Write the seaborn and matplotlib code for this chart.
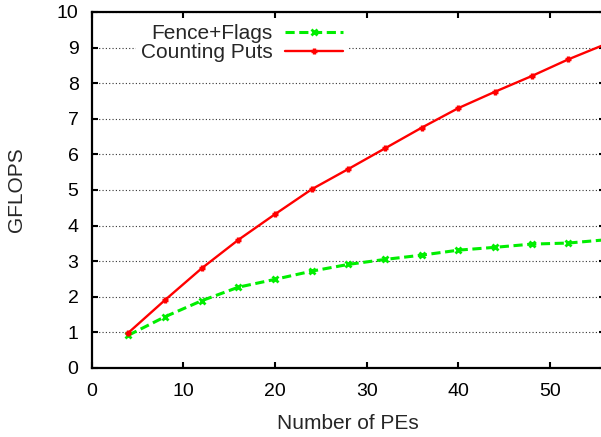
import matplotlib
matplotlib.use("Agg")
import matplotlib.pyplot as plt
from matplotlib.lines import Line2D
import seaborn as sns

pes = [4, 8, 12, 16, 20, 24, 28, 32, 36, 40, 44, 48, 52, 56]
fence_flags = [0.92, 1.44, 1.89, 2.27, 2.49, 2.72, 2.91, 3.05, 3.17, 3.31, 3.39, 3.48, 3.51, 3.60]
counting_puts = [0.99, 1.91, 2.80, 3.60, 4.32, 5.02, 5.59, 6.17, 6.75, 7.30, 7.76, 8.20, 8.67, 9.09]
series_names = ["Fence+Flags", "Counting Puts"]
x_label = "Number of PEs"
y_label = "GFLOPS"

sns.set_style("ticks")
plt.rcParams['font.family'] = ['Liberation Sans', 'DejaVu Sans']

GREEN = "#00ee00"
RED = "#ff0000"
green_style = dict(color=GREEN, linewidth=2.2, linestyle=(0, (3, 1.5)), marker="x",
                   markersize=5, markeredgewidth=2.0, markeredgecolor=GREEN,
                   markerfacecolor=GREEN)
red_style = dict(color=RED, linewidth=1.7, linestyle="-", marker="+",
                 markersize=5, markeredgewidth=2.4, markeredgecolor=RED,
                 markerfacecolor=RED)

fig = plt.figure(figsize=(6.01, 4.37), dpi=100)
ax = fig.add_axes([91.7 / 601, 69 / 437, (605 - 91.7) / 601, (368 - 12) / 437])

sns.lineplot(x=pes, y=fence_flags, ax=ax, **green_style)
sns.lineplot(x=pes, y=counting_puts, ax=ax, **red_style)

ax.set_xlim(0, 56)
ax.set_ylim(0, 10)
ax.set_xticks([0, 10, 20, 30, 40, 50])
ax.set_yticks(range(0, 11))
ax.yaxis.grid(True, linestyle=(0, (1, 2)), color="#333333", linewidth=0.8)
ax.set_axisbelow(True)
for sp in ax.spines.values():
    sp.set_visible(True)
    sp.set_linewidth(1.6)
    sp.set_color("black")
ax.tick_params(direction="in", length=4, width=1.5, top=True, right=True,
               labelsize=14, colors="black")
ax.tick_params(axis="y", pad=9.5)
ax.tick_params(axis="x", pad=11)
ax.set_xlabel(x_label, fontsize=15)
ax.set_ylabel(y_label, fontsize=15)
ax.xaxis.set_label_coords(0.5, -0.13)
ax.yaxis.set_label_coords(-0.128, 0.5)

handles = [Line2D([], [], **green_style), Line2D([], [], **red_style)]
leg = ax.legend(handles, series_names, loc="upper left", bbox_to_anchor=(0.079, 0.99),
                markerfirst=False, frameon=True, framealpha=1, edgecolor="white",
                facecolor="white", fancybox=False, fontsize=15, handlelength=2.8,
                handletextpad=0.6, labelspacing=0.0, borderpad=0.2, borderaxespad=0.2)
for col in leg._legend_handle_box.get_children():
    col.align = "right"

fig.savefig("out.png", dpi=100)
